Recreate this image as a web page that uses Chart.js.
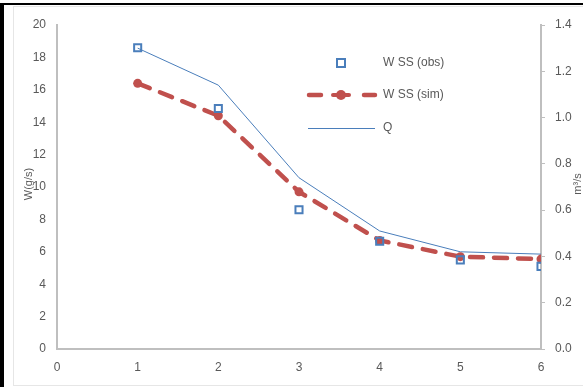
<!DOCTYPE html>
<html>
<head>
<meta charset="utf-8">
<script src="https://cdn.jsdelivr.net/npm/chart.js@4/dist/chart.umd.min.js"></script>
<style>
    html, body { margin: 0; padding: 0; background: #fff; }
    #wrap { position: relative; width: 583px; height: 387px; overflow: hidden; }
    #frame { position: absolute; left: 0; top: 3px; width: 600px; height: 400px;
             border-left: 4px solid #000; border-top: 2px solid #000; box-sizing: border-box; }
    #inner { position: absolute; left: 13px; top: 6px; width: 600px; height: 380px;
             border: 1px solid #e6e6e6; box-sizing: border-box; }
    canvas { position: absolute; left: 0; top: 0; }
</style>
</head>
<body>
<div id="wrap">
    <div id="frame"></div>
    <div id="inner"></div>
    <canvas id="chart" width="583" height="387"></canvas>
</div>
<script>
// Chart data
const xValues = [1, 2, 3, 4, 5, 6];
const wssObs = [18.6, 14.85, 8.6, 6.65, 5.5, 5.1];
const wssSim = [16.4, 14.4, 9.7, 6.7, 5.7, 5.55];
const flowQ = [1.30, 1.14, 0.74, 0.51, 0.42, 0.41];

const leftTicks = [0, 2, 4, 6, 8, 10, 12, 14, 16, 18, 20];
const rightTicks = [0, 0.2, 0.4, 0.6, 0.8, 1.0, 1.2, 1.4];

const seriesNames = ['W SS (obs)', 'W SS (sim)', 'Q'];
const axisTitles = ['W(g/s)', 'm³/s'];

const BLUE = '#4A7EBB';
const RED = '#C0504D';
const TEXT = '#595959';
const AXIS = '#BFBFBF';
const FONT = '"Liberation Sans", Arial, sans-serif';

function toPoints(values) {
    return xValues.map((x, i) => ({ x: x, y: values[i] }));
}

// draws legend and axis titles inside the canvas
const extrasPlugin = {
    id: 'extras',
    afterDraw(chart) {
        const ctx = chart.ctx;
        ctx.save();
        ctx.fillStyle = TEXT;
        ctx.font = '12px ' + FONT;
        ctx.textBaseline = 'middle';

        // legend
        const textX = 383;
        const rows = [63, 95, 128];

        ctx.strokeStyle = BLUE;
        ctx.lineWidth = 2;
        ctx.strokeRect(337, rows[0] - 4, 8, 8);

        ctx.strokeStyle = RED;
        ctx.lineWidth = 4.5;
        ctx.lineCap = 'round';
        ctx.beginPath();
        ctx.moveTo(309, rows[1]); ctx.lineTo(321, rows[1]);
        ctx.moveTo(364, rows[1]); ctx.lineTo(375, rows[1]);
        ctx.stroke();
        ctx.fillStyle = RED;
        ctx.beginPath();
        ctx.arc(341, rows[1], 5, 0, Math.PI * 2);
        ctx.fill();
        ctx.lineWidth = 4;
        ctx.beginPath();
        ctx.moveTo(333, rows[1]); ctx.lineTo(349, rows[1]);
        ctx.stroke();

        ctx.strokeStyle = BLUE;
        ctx.lineWidth = 1;
        ctx.lineCap = 'butt';
        ctx.beginPath();
        ctx.moveTo(308, rows[2] + 0.5); ctx.lineTo(375, rows[2] + 0.5);
        ctx.stroke();

        ctx.fillStyle = TEXT;
        seriesNames.forEach((name, i) => ctx.fillText(name, textX, rows[i]));

        // axis titles
        ctx.font = '11px ' + FONT;
        ctx.textAlign = 'center';
        ctx.translate(29, 184);
        ctx.rotate(-Math.PI / 2);
        ctx.fillText(axisTitles[0], 0, 0);
        ctx.restore();

        ctx.save();
        ctx.fillStyle = TEXT;
        ctx.font = '11px ' + FONT;
        ctx.textAlign = 'center';
        ctx.textBaseline = 'middle';
        ctx.translate(578, 184);
        ctx.rotate(-Math.PI / 2);
        ctx.fillText(axisTitles[1], 0, 0);
        ctx.restore();
    }
};

Chart.defaults.font.family = FONT;
Chart.defaults.font.size = 12;
Chart.defaults.color = TEXT;

new Chart(document.getElementById('chart'), {
    type: 'line',
    data: {
        datasets: [
            {
                label: seriesNames[0],
                data: toPoints(wssObs),
                showLine: false,
                pointStyle: 'rect',
                pointRadius: 5,
                borderColor: BLUE,
                backgroundColor: 'transparent',
                pointBorderWidth: 2,
                yAxisID: 'y',
                order: 0
            },
            {
                label: seriesNames[1],
                data: toPoints(wssSim),
                borderColor: RED,
                backgroundColor: RED,
                borderWidth: 4.5,
                borderDash: [13, 11],
                borderCapStyle: 'round',
                tension: 0,
                pointStyle: 'circle',
                pointRadius: 4.5,
                pointBorderWidth: 0,
                yAxisID: 'y',
                order: 1
            },
            {
                label: seriesNames[2],
                data: toPoints(flowQ),
                borderColor: BLUE,
                borderWidth: 1,
                pointRadius: 0,
                tension: 0,
                yAxisID: 'y1',
                order: 2
            }
        ]
    },
    options: {
        responsive: false,
        animation: false,
        layout: {
            padding: { left: 0, right: 0, top: 25, bottom: 0 }
        },
        plugins: {
            legend: { display: false },
            tooltip: { enabled: false }
        },
        scales: {
            x: {
                type: 'linear',
                min: 0,
                max: 6,
                afterFit: scale => { scale.height = 38; },
                ticks: { stepSize: 1, padding: 11, color: TEXT },
                grid: { drawOnChartArea: false, drawTicks: false },
                border: { color: AXIS, width: 2 }
            },
            y: {
                position: 'left',
                min: 0,
                max: 20,
                afterFit: scale => { scale.width = 57; },
                afterBuildTicks: scale => { scale.ticks = leftTicks.map(v => ({ value: v })); },
                ticks: { padding: 11, color: TEXT },
                grid: { drawOnChartArea: false, drawTicks: false },
                border: { color: AXIS, width: 2 }
            },
            y1: {
                position: 'right',
                min: 0,
                max: 1.4,
                afterFit: scale => { scale.width = 42; },
                afterBuildTicks: scale => { scale.ticks = rightTicks.map(v => ({ value: v })); },
                ticks: { padding: 10, color: TEXT, callback: v => v.toFixed(1) },
                grid: { drawOnChartArea: false, drawTicks: true, tickLength: 4, color: AXIS, lineWidth: 1 },
                border: { color: AXIS, width: 2 }
            }
        }
    },
    plugins: [extrasPlugin]
});
</script>
</body>
</html>
